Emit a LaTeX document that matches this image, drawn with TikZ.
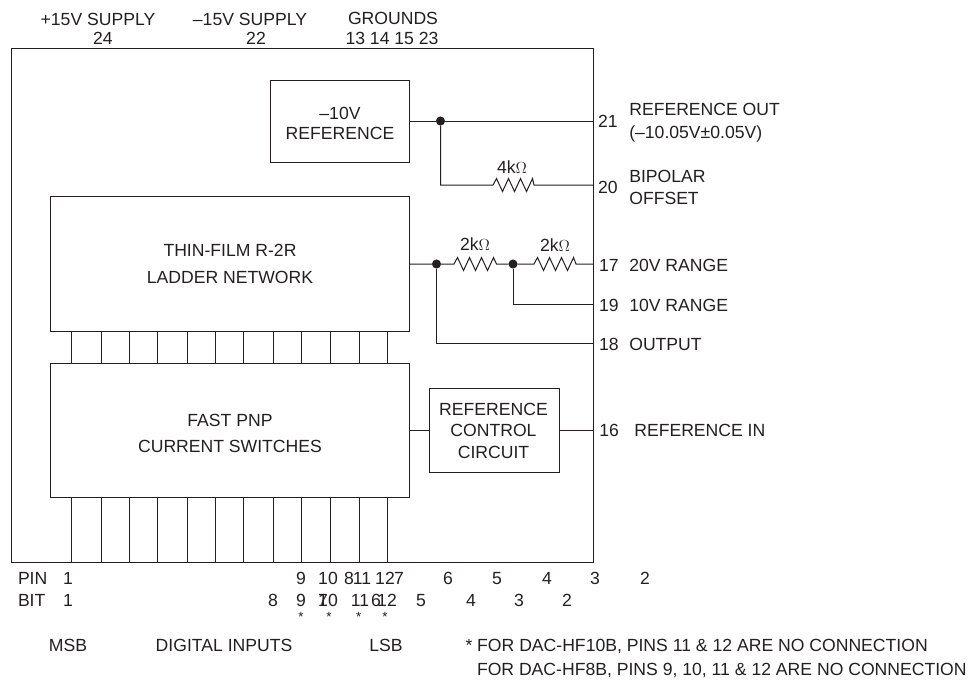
\documentclass[tikz,border=0pt]{standalone}
\usepackage{fontspec}
\setmainfont{Liberation Sans}
\definecolor{ink}{HTML}{231F20}
\tikzset{
  pxsize/.style 2 args={minimum width=#1*0.75pt,minimum height=#2*0.75pt},
  blockbox/.style={draw=ink,line width=0.75pt,inner sep=0pt,outer sep=0pt},
  chipbox/.style={blockbox,line width=1pt},
  lbl/.style={inner sep=0pt,outer sep=0pt,text=ink,anchor=base,font=\fontsize{13.2}{15}\selectfont},
  lbll/.style={lbl,anchor=base west},
  star/.style={inner sep=0pt,text=ink,font=\fontsize{10}{12}\selectfont},
  wire/.style={draw=ink,line width=0.75pt},
  junction/.style={circle,fill=ink,minimum size=6.8pt,inner sep=0pt,outer sep=0pt},
  resistor/.style={to path={-- ++(3.5,-6.5) -- ++(6,13) -- ++(6,-13) -- ++(6,13) -- ++(6,-13) -- ++(6,13) -- ++(6,-13) -- (\tikztotarget)}}
}
\begin{document}
\begin{tikzpicture}[x=0.75pt,y=-0.75pt]
\useasboundingbox (0,0) rectangle (969,679);
% blocks
\node[chipbox,pxsize={582}{514}] (chip) at (302.5,305.5) {};
\node[blockbox,pxsize={139}{82}] (ref) at (339.5,121) {};
\node[blockbox,pxsize={359}{135}] (ladder) at (229.5,263.5) {};
\node[blockbox,pxsize={359}{134}] (sw) at (229.5,430) {};
\node[blockbox,pxsize={130}{84}] (ctl) at (494,430.5) {};
% block texts
\node[lbl] (b1) at (340,119.3) {--10V};
\node[lbl] (b2) at (340,139.3) {REFERENCE};
\node[lbl] (b3) at (230,256.5) {THIN-FILM R-2R};
\node[lbl] (b4) at (230,283.5) {LADDER NETWORK};
\node[lbl] (b5) at (230,426) {FAST PNP};
\node[lbl] (b6) at (230,452.5) {CURRENT SWITCHES};
\node[lbl] (b7) at (493.5,415) {REFERENCE};
\node[lbl] (b8) at (493.5,436.7) {CONTROL};
\node[lbl] (b9) at (493.5,458.3) {CIRCUIT};
% junctions
\node[junction] (j1) at (440.5,121) {};
\node[junction] (j2) at (436.5,264) {};
\node[junction] (j3) at (513,264) {};
% pin points
\coordinate (p21) at (593.5,121);
\coordinate (p20) at (593.5,185);
\coordinate (p17) at (593.5,264);
\coordinate (p19) at (593.5,304);
\coordinate (p18) at (593.5,343);
\coordinate (p16) at (593.5,430.5);
\coordinate (r1a) at (493,185);
\coordinate (r1b) at (534,185);
\coordinate (r2a) at (454,264);
\coordinate (r2b) at (496.5,264);
\coordinate (r3a) at (534,264);
\coordinate (r3b) at (576,264);
% wires
\draw[wire] (ref.east |- j1) -- (j1) -- (p21);
\draw[wire] (j1) |- (r1a) to[resistor] (r1b) -- (p20);
\draw[wire] (ladder.east |- j2) -- (j2) -- (r2a) to[resistor] (r2b) -- (j3) -- (r3a) to[resistor] (r3b) -- (p17);
\draw[wire] (j3) |- (p19);
\draw[wire] (j2) |- (p18);
\draw[wire] (sw.east |- ctl.west) -- (ctl.west);
\draw[wire] (ctl.east) -- (p16);
\foreach \i/\x in {1/71.7,2/101.3,3/129.7,4/157.7,5/187.3,6/215.7,7/243.7,8/273.7,9/301.7,10/330,11/359.5,12/387.7}{
  \coordinate (t\i) at (\x,0);
  \draw[wire] (t\i |- ladder.south) -- (t\i |- sw.north);
  \draw[wire] (t\i |- sw.south) -- (t\i |- chip.south);
}
% top labels
\node[lbl] (l1) at (98,25) {+15V SUPPLY};
\node[lbl] (l2) at (103,44) {24};
\node[lbl] (l3) at (250,25) {--15V SUPPLY};
\node[lbl] (l4) at (256,44) {22};
\node[lbl] (l5) at (393,24) {GROUNDS};
\node[lbl] (l6) at (392,44) {13 14 15 23};
% resistor values
\node[lbl] (v1) at (512,173) {4k$\Omega$};
\node[lbl] (v2) at (475,250) {2k$\Omega$};
\node[lbl] (v3) at (555,251) {2k$\Omega$};
% right labels
\node[lbll] (n21) at (598,127.3) {21};
\node[lbll] (n20) at (598,193.3) {20};
\node[lbll] (n17) at (599,271) {17};
\node[lbll] (n19) at (599,311) {19};
\node[lbll] (n18) at (599,350) {18};
\node[lbll] (n16) at (599.3,436) {16};
\node[lbll] (t21a) at (629.3,115.7) {REFERENCE OUT};
\node[lbll] (t21b) at (629.3,138) {(--10.05V±0.05V)};
\node[lbll] (t20a) at (629.3,182) {BIPOLAR};
\node[lbll] (t20b) at (629.3,204) {OFFSET};
\node[lbll] (t17) at (629.3,271) {20V RANGE};
\node[lbll] (t19) at (629.3,311) {10V RANGE};
\node[lbll] (t18) at (629.3,350) {OUTPUT};
\node[lbll] (t16) at (634.3,436) {REFERENCE IN};
% pin row
\node[lbll] (pin) at (18,584) {PIN};
\foreach \t/\x in {1/68,9/301,10/328,8/349,11/362,12/385,7/399,6/448,5/497,4/547,3/595,2/645}{
  \node[lbl] (pin\t) at (\x,584) {\t};
}
% bit row
\node[lbll] (bit) at (18,606.7) {BIT};
\foreach \t/\x in {1/68,8/273,9/301,7/323,10/328,11/360,6/376,12/387,5/421,4/471,3/519,2/567}{
  \node[lbl] (bit\t) at (\x,606.7) {\t};
}
\foreach \x in {301,329,358.7,385}{
  \node[star] at (\x,616.5) {*};
}
% bottom
\node[lbl] (msb) at (68,651) {MSB};
\node[lbl] (di) at (224,651) {DIGITAL INPUTS};
\node[lbl] (lsb) at (386,651) {LSB};
\node[lbll] (note1) at (465.5,651) {* FOR DAC-HF10B, PINS 11 \& 12 ARE NO CONNECTION};
\node[lbll] (note2) at (477,675.5) {FOR DAC-HF8B, PINS 9, 10, 11 \& 12 ARE NO CONNECTION};
\end{tikzpicture}
\end{document}
